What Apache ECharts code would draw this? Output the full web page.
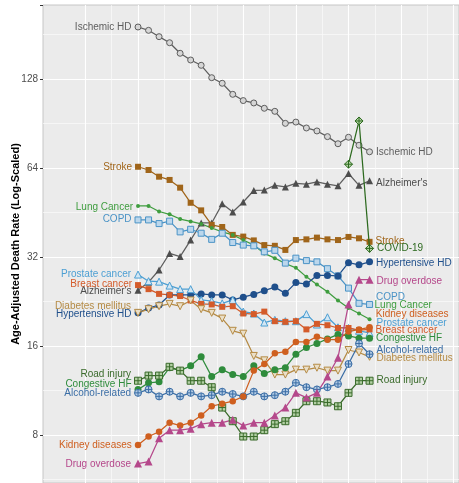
<!DOCTYPE html>
<html>
<head>
<meta charset="utf-8">
<script src="https://cdn.jsdelivr.net/npm/echarts@6/dist/echarts.min.js"></script>
<style>
  html, body { margin: 0; padding: 0; background: #fff; }
  #chart { width: 459px; height: 483px; }
</style>
</head>
<body>
<div id="chart"></div>
<script>
// years of the main series, covid only has the last three
const years = [2000, 2001, 2002, 2003, 2004, 2005, 2006, 2007, 2008, 2009, 2010, 2011,
  2012, 2013, 2014, 2015, 2016, 2017, 2018, 2019, 2020, 2021, 2022];
const covidYears = [2020, 2021, 2022];
const yTicks = [8, 16, 32, 64, 128];
const xMinorBreaks = [1997.5, 2002.5, 2007.5, 2012.5, 2017.5, 2022.5, 2027.5];

const ischemicHD = [191.9, 187.0, 178.0, 169.8, 156.4, 148.4, 142.4, 129.3, 123.8, 113.6, 108.2, 106.2,
  101.9, 99.5, 90.6, 91.5, 87.4, 85.4, 81.7, 77.3, 81.3, 76.4, 72.6];
const alzheimers = [24.7, 26.3, 28.9, 32.9, 32.1, 36.5, 41.7, 41.7, 48.4, 45.4, 49.1, 53.7,
  53.9, 55.9, 55.2, 56.8, 56.4, 57.4, 56.4, 55.7, 61.3, 55.9, 57.9];
const stroke = [64.6, 63.0, 59.8, 58.3, 54.9, 48.8, 46.0, 41.1, 40.4, 38.0, 37.5, 36.4,
  35.1, 34.9, 33.8, 36.5, 36.7, 37.2, 36.7, 36.5, 37.4, 37.0, 36.0];
const lungCancer = [47.6, 47.6, 45.6, 44.6, 43.0, 42.2, 41.4, 40.1, 38.9, 38.0, 36.5, 35.1,
  32.9, 31.7, 30.4, 29.4, 27.4, 25.8, 24.4, 22.8, 21.5, 20.6, 19.7];
const copd = [42.7, 42.7, 41.5, 42.3, 38.9, 39.7, 38.5, 36.7, 38.5, 35.8, 35.1, 34.9,
  33.3, 33.7, 30.5, 31.7, 31.1, 30.8, 29.2, 27.6, 25.1, 22.3, 22.1];
const hypertensiveHD = [20.7, 21.5, 22.0, 23.8, 23.8, 23.8, 24.0, 23.8, 23.8, 22.9, 23.4, 23.9,
  24.6, 25.3, 24.1, 26.2, 25.9, 27.7, 27.7, 27.6, 30.6, 30.1, 30.8];
const prostateCancer = [27.9, 26.5, 26.4, 25.6, 24.9, 24.9, 22.9, 22.7, 22.3, 22.9, 20.9, 20.6,
  19.2, 19.6, 19.4, 19.4, 20.5, 18.9, 20.0, 18.5, 18.4, 18.0, 17.7];
const breastCancer = [25.7, 24.9, 24.0, 23.8, 23.6, 22.8, 22.2, 22.1, 21.7, 21.8, 20.6, 20.5,
  20.9, 19.4, 19.3, 19.4, 18.2, 19.0, 18.8, 18.4, 18.4, 18.1, 18.2];
const diabetes = [20.7, 21.3, 21.8, 22.2, 21.8, 22.8, 21.3, 20.7, 19.8, 18.0, 17.6, 14.8,
  14.3, 12.8, 12.8, 13.3, 13.3, 13.5, 13.2, 13.2, 15.5, 15.2, 14.7];
const congestiveHF = [11.4, 12.0, 12.1, 13.5, 13.2, 13.7, 14.7, 12.6, 13.3, 12.8, 12.6, 13.7,
  12.9, 13.3, 13.5, 15.0, 15.8, 16.3, 16.9, 17.5, 17.3, 17.0, 17.0];
const roadInjury = [12.2, 12.7, 12.7, 13.6, 13.2, 12.2, 12.2, 11.6, 9.9, 8.9, 7.9, 7.9,
  8.3, 8.7, 8.9, 9.5, 10.4, 10.4, 10.3, 10.0, 11.1, 12.2, 12.2];
const alcohol = [11.1, 11.4, 10.8, 11.2, 10.8, 11.1, 10.8, 10.9, 11.2, 11.0, 10.8, 11.2,
  10.8, 10.9, 11.2, 12.0, 11.6, 11.4, 11.6, 11.9, 13.9, 16.3, 15.0];
const kidney = [7.4, 7.9, 8.2, 8.8, 8.6, 8.8, 9.3, 10.0, 10.2, 10.4, 10.8, 13.2,
  13.9, 15.1, 15.3, 16.5, 16.5, 17.2, 16.8, 16.8, 17.9, 18.2, 18.5];
const drugOverdose = [6.4, 6.5, 7.8, 8.3, 8.3, 8.4, 8.7, 8.8, 8.8, 9.0, 8.6, 8.8,
  8.8, 9.3, 9.9, 11.1, 10.7, 11.1, 12.6, 14.6, 22.1, 26.8, 26.8];
const covid = [65.9, 92.3, 34.2];

const FONT = 'Liberation Sans';
const circlePlus = 'path://M10,0A10,10 0 1,1 10,20A10,10 0 1,1 10,0ZM0,10L20,10M10,0L10,20';
const squarePlus = 'path://M0,0L20,0L20,20L0,20ZM0,10L20,10M10,0L10,20';
const diamondPlus = 'path://M10,0L20,10L10,20L0,10ZM0,10L20,10M10,0L10,20';

function lbl (name, pos, dy, color) {
	return {
		show: true, position: pos, distance: 3, offset: [0, dy],
		formatter: name, color: color, fontSize: 10, fontFamily: FONT
	};
}

function mk (name, xs, ys, st) {
	const data = ys.map(function (v, i) {
		const item = { value: [xs[i], v] };
		if (i === 0 && st.l !== undefined) item.label = lbl(name, 'left', st.l, st.c);
		if (i === ys.length - 1) item.label = lbl(name, 'right', st.r, st.c);
		return item;
	});
	return {
		type: 'line', name: name, data: data,
		symbol: st.sym || 'circle', symbolSize: st.size || 6,
		symbolRotate: st.rot || 0,
		showAllSymbol: true,
		lineStyle: { color: st.line || st.c, width: 1.25 },
		itemStyle: st.fill
			? { color: st.fill, borderColor: st.c, borderWidth: 1 }
			: { color: st.c, borderWidth: 0 },
		emphasis: { disabled: true },
		z: st.z || 2
	};
}

const series = [
	{
		// empty series carrying the thin vertical minor grid lines
		type: 'line', data: [], z: 0, silent: true,
		markLine: {
			silent: true, symbol: 'none', label: { show: false }, z: 0,
			lineStyle: { color: '#fafafa', width: 0.7, type: 'solid' },
			emphasis: { disabled: true },
			data: xMinorBreaks.map(function (x) { return { xAxis: x }; })
		}
	},
	mk('Ischemic HD', years, ischemicHD, { c: '#5e5e5e', fill: '#d6d6d6', l: 0, r: 0 }),
	mk("Alzheimer's", years, alzheimers, { c: '#4d4d4d', line: '#5e5e5e', sym: 'triangle', size: 7, l: 1, r: 2 }),
	mk('Stroke', years, stroke, { c: '#a0651a', sym: 'rect', size: 6, l: 0, r: -1 }),
	mk('Lung Cancer', years, lungCancer, { c: '#3f9d3f', size: 4, l: 1, r: -14 }),
	mk('COPD', years, copd, { c: '#4a93c6', fill: '#bcd7ec', sym: 'rect', size: 6, l: -1, r: -7.5 }),
	mk('Hypertensive HD', years, hypertensiveHD, { c: '#1f4f8b', size: 7, l: 1, r: 1 }),
	mk('Prostate cancer', years, prostateCancer, { c: '#4c9fd3', fill: '#d3e7f4', sym: 'triangle', size: 7, l: 0, r: -9.5 }),
	mk('Breast cancer', years, breastCancer, { c: '#d45b2a', sym: 'rect', size: 6, l: -1, r: 1 }),
	mk('Diabetes mellitus', years, diabetes, { c: '#b58b45', fill: '#eadfc8', sym: 'triangle', rot: 180, size: 7, l: -7, r: 1 }),
	mk('Congestive HF', years, congestiveHF, { c: '#2f8c3c', size: 7, l: -5, r: 0 }),
	mk('Road injury', years, roadInjury, { c: '#3a6b2b', fill: '#b2cfa4', sym: squarePlus, size: 7, l: -6, r: 0 }),
	mk('Alcohol-related', years, alcohol, { c: '#3b6ea6', fill: '#b3cbe4', sym: circlePlus, size: 7, l: 0, r: -4 }),
	mk('Kidney diseases', years, kidney, { c: '#cf5f1f', size: 6.5, l: 0, r: -13 }),
	mk('Drug overdose', years, drugOverdose, { c: '#b5488b', sym: 'triangle', size: 8, l: 1, r: 2 }),
	mk('COVID-19', covidYears, covid, { c: '#2d6a1f', fill: '#b6d6a6', sym: diamondPlus, size: 8, r: 0, z: 3 })
];

const yMin = 5.50, yMax = 227.8;
const xMin = 1990.97, xMax = 2030.5;

const chart = echarts.init(document.getElementById('chart'));
chart.setOption({
	animation: false,
	grid: {
		left: 43, right: 0, top: 5, bottom: 0,
		outerBoundsMode: 'none', containLabel: false,
		show: true, backgroundColor: '#ebebeb', borderColor: '#c6c6c6', borderWidth: 1
	},
	xAxis: {
		type: 'value', min: xMin, max: xMax, splitNumber: 8,
		axisLabel: { show: false }, axisTick: { show: false }, axisLine: { show: false },
		splitLine: { show: true, showMinLine: false, showMaxLine: false, lineStyle: { color: '#ffffff', width: 1.1 } }
	},
	yAxis: [
		{
			type: 'log', logBase: 2, min: yMin, max: yMax,
			name: 'Age-Adjusted Death Rate (Log-Scaled)',
			nameLocation: 'middle', nameGap: 22, nameMoveOverlap: false,
			nameTextStyle: { fontFamily: FONT, fontSize: 11, fontWeight: 'bold', color: '#000' },
			axisLine: { show: false },
			axisTick: { show: true, length: 3, lineStyle: { color: '#333' } },
			axisLabel: {
				fontFamily: FONT, fontSize: 10, color: '#4d4d4d', margin: 5,
				formatter: function (v) { return yTicks.indexOf(Math.round(v)) >= 0 ? String(Math.round(v)) : ''; }
			},
			splitLine: { show: true, showMinLine: false, showMaxLine: false, lineStyle: { color: '#ffffff', width: 1.1 } }
		},
		{
			// shifted by half an octave, only draws the minor horizontal grid lines
			type: 'log', logBase: 2, min: yMin * Math.SQRT2, max: yMax * Math.SQRT2,
			axisLine: { show: false }, axisTick: { show: false }, axisLabel: { show: false },
			splitLine: { show: true, showMinLine: false, showMaxLine: false, lineStyle: { color: '#fafafa', width: 0.7 } }
		}
	],
	series: series
});
</script>
</body>
</html>
